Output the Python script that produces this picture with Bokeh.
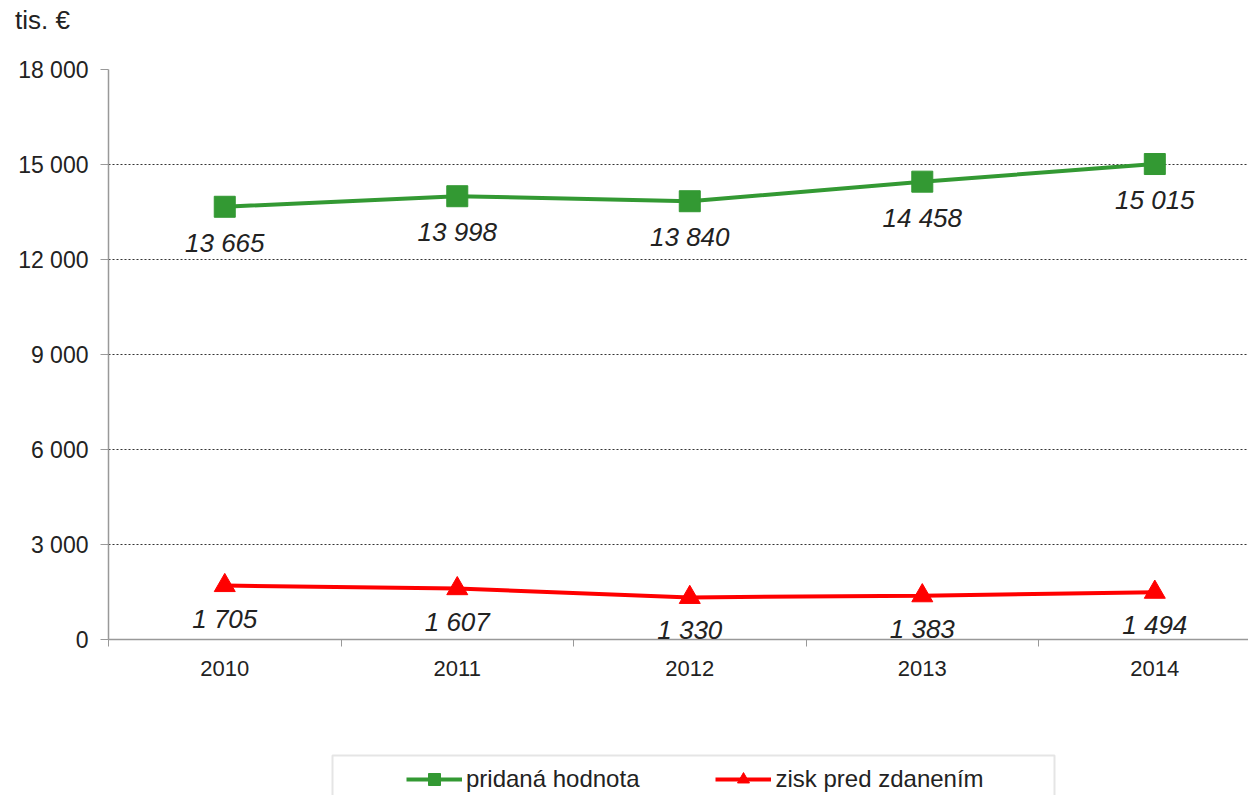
from bokeh.plotting import figure
from bokeh.models import (ColumnDataSource, FixedTicker, Legend, LegendItem, LabelSet,
                          BoxAnnotation, Range1d, Div)
from bokeh.layouts import column
from bokeh.core.properties import value
from bokeh.embed import file_html
from bokeh.resources import INLINE

years = ["2010", "2011", "2012", "2013", "2014"]
pridana_hodnota = [13665, 13998, 13840, 14458, 15015]
zisk_pred_zdanenim = [1705, 1607, 1330, 1383, 1494]
y_ticks = [0, 3000, 6000, 9000, 12000, 15000, 18000]
series_names = ["pridaná hodnota", "zisk pred zdanením"]
unit_label = "tis. €"

def fmt(v):
    return f"{v:,}".replace(",", " ")

xs = list(range(len(years)))
src_g = ColumnDataSource(dict(x=xs, y=pridana_hodnota, t=[fmt(v) for v in pridana_hodnota]))
src_r = ColumnDataSource(dict(x=xs, y=zisk_pred_zdanenim, t=[fmt(v) for v in zisk_pred_zdanenim]))

FONT = "Liberation Sans"
GREEN = "#339933"
RED = "#ff0000"
TXT = "#222222"

# unit caption
head = Div(text=unit_label, width=1248, height=50, margin=(0, 0, 0, 0),
           styles={"font-family": FONT, "font-size": "26px", "color": TXT,
                   "padding-left": "15px", "padding-top": "5px",
                   "line-height": "1.2", "box-sizing": "border-box"})

p = figure(width=1248, height=650, output_backend="svg", toolbar_location=None,
           x_range=(-0.5, 4.403), y_range=(0, 18000),
           min_border_left=108, min_border_right=0, min_border_top=19,
           min_border_bottom=61)
p.outline_line_color = None
p.background_fill_color = "white"
p.border_fill_color = "white"

# axes
p.xaxis.ticker = FixedTicker(ticks=xs, minor_ticks=[i - 0.5 for i in range(len(years) + 1)])
p.xaxis.major_label_overrides = {i: y for i, y in enumerate(years)}
p.xaxis.major_tick_line_color = None
p.xaxis.minor_tick_line_color = "#999999"
p.xaxis.minor_tick_out = 7
p.xaxis.minor_tick_in = 0
p.xaxis.axis_line_color = "#999999"
p.xaxis.axis_line_width = 1.5
p.xaxis.major_label_text_font = FONT
p.xaxis.major_label_text_font_size = "22px"
p.xaxis.major_label_text_color = TXT
p.xaxis.major_label_standoff = 14

p.yaxis.ticker = FixedTicker(ticks=y_ticks)
p.yaxis.major_label_overrides = {t: fmt(t) for t in y_ticks}
p.yaxis.minor_tick_line_color = None
p.yaxis.major_tick_line_color = "#999999"
p.yaxis.major_tick_out = 8
p.yaxis.major_tick_in = 0
p.yaxis.axis_line_color = "#999999"
p.yaxis.axis_line_width = 1.5
p.yaxis.major_label_text_font = FONT
p.yaxis.major_label_text_font_size = "23px"
p.yaxis.major_label_text_color = TXT
p.yaxis.major_label_standoff = 12

p.xgrid.grid_line_color = None
p.ygrid.ticker = FixedTicker(ticks=y_ticks[1:])
p.ygrid.grid_line_color = "#333333"
p.ygrid.grid_line_dash = "2 2"
p.ygrid.grid_line_width = 1

# series
p.line("x", "y", source=src_g, color=GREEN, line_width=4)
p.scatter("x", "y", source=src_g, marker="square", size=21, color=GREEN)
p.line("x", "y", source=src_r, color=RED, line_width=4)
p.scatter("x", "y", source=src_r, marker="triangle", size=21, color=RED)

for s, off in ((src_g, -36), (src_r, -33)):
    p.add_layout(LabelSet(x="x", y="y", text="t", source=s, y_offset=off,
                          text_align="center", text_baseline="middle",
                          text_font=value(FONT), text_font_size="26px",
                          text_font_style="italic", text_color=TXT))

# legend strip: frame aligned with the main frame, ranges in page pixels
p2 = figure(width=1248, height=95, output_backend="svg", toolbar_location=None,
            x_range=Range1d(108, 1248), y_range=Range1d(95, 0),
            min_border=0)
p2.axis.visible = False
p2.grid.visible = False
p2.outline_line_color = None

p2.add_layout(BoxAnnotation(left=332, right=1054, top=55, bottom=140,
                            fill_alpha=0, line_color="#aaaaaa", line_width=2))

# legend proxies (series drawn outside this strip's visible ranges)
gl = p2.line("x", "y", source=src_g, color=GREEN, line_width=4)
gs = p2.scatter("x", "y", source=src_g, marker="square", size=14, color=GREEN)
rl = p2.line("x", "y", source=src_r, color=RED, line_width=4)
rs = p2.scatter("x", "y", source=src_r, marker="triangle", size=16, color=RED)

legend = Legend(items=[LegendItem(label=series_names[0], renderers=[gl, gs], index=0),
                       LegendItem(label=series_names[1], renderers=[rl, rs], index=0)],
                orientation="horizontal", location=(298, 1),
                label_text_font=FONT, label_text_font_size="24px",
                label_text_color=TXT, label_standoff=4,
                glyph_width=56, glyph_height=30, spacing=76,
                padding=8, margin=0,
                border_line_color=None, background_fill_alpha=0)
p2.add_layout(legend, "center")

html = file_html(column(head, p, p2, spacing=0), INLINE)
with open("out.html", "w") as f:
    f.write(html)
